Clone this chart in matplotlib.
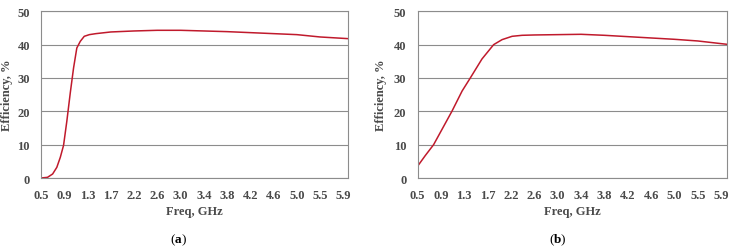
import matplotlib
matplotlib.use("Agg")
import matplotlib.pyplot as plt

# tick labels on the (category style) frequency axis
freq_labels = ["0.5", "0.9", "1.3", "1.7", "2.2", "2.6", "3.0",
               "3.4", "3.8", "4.2", "4.6", "5.0", "5.5", "5.9"]

# panel (a): position on the label axis, efficiency %
pos_a = [0, 0.28, 0.5, 0.68, 0.83, 0.97, 1.11, 1.26, 1.40, 1.54, 1.69, 1.86,
         2.08, 2.36, 3.0, 4.0, 5.0, 6.0, 7.0, 8.0, 9.0, 10.0, 11.0, 12.0, 13.2]
eff_a = [0, 0.2, 1.2, 3.2, 6.2, 9.8, 17.0, 25.6, 33.0, 39.0, 41.0, 42.5,
         43.0, 43.3, 43.8, 44.1, 44.3, 44.3, 44.1, 43.9, 43.6, 43.3, 43.0, 42.3, 41.8]

# panel (b)
pos_b = [0, 0.33, 0.69, 1.05, 1.48, 1.91, 2.26, 2.76, 3.26, 3.62, 4.05, 4.48,
         5.0, 6.0, 7.0, 8.0, 9.0, 10.0, 11.0, 12.0, 13.25]
eff_b = [3.5, 6.7, 10.0, 14.6, 20.1, 26.1, 30.0, 35.7, 40.0, 41.5, 42.5, 42.8,
         42.9, 43.0, 43.1, 42.8, 42.4, 42.0, 41.6, 41.1, 40.1]

plt.rcParams["font.family"] = "Liberation Serif"
plt.rcParams["mathtext.fontset"] = "custom"
plt.rcParams["mathtext.rm"] = "Liberation Serif"
plt.rcParams["mathtext.bf"] = "Liberation Serif:bold"

txt = "#4a4a4a"
grid_c = "#8c8c8c"
line_c = "#c01a2c"

fig = plt.figure(figsize=(7.31, 2.53), dpi=100)

panels = [
    ([41 / 731, 1 - 179 / 253, 307 / 731, 166.7 / 253], pos_a, eff_a, 13.2, 178 / 731, "a", -0.092),
    ([417.5 / 731, 1 - 179 / 253, 309.5 / 731, 166.7 / 253], pos_b, eff_b, 13.25, 558 / 731, "b", -0.099),
]

for rect, xs, ys, xmax, cap_x, letter, ylab_x in panels:
    ax = fig.add_axes(rect)
    ax.plot(xs, ys, color=line_c, lw=1.1)
    ax.set_xlim(0, xmax)
    ax.set_ylim(0, 50)
    ax.set_yticks([0, 10, 20, 30, 40, 50])
    ax.set_xticks(range(len(freq_labels)))
    ax.set_xticklabels(freq_labels)
    ax.yaxis.grid(True, color=grid_c, lw=0.8)
    ax.set_axisbelow(True)
    for s in ax.spines.values():
        s.set_color(grid_c)
        s.set_linewidth(0.8)
    ax.tick_params(axis="both", length=0, labelsize=9, labelcolor=txt)
    ax.tick_params(axis="x", pad=8)
    ax.tick_params(axis="y", pad=8)
    for lab in ax.get_xticklabels() + ax.get_yticklabels():
        lab.set_fontweight("bold")
    ax.set_xlabel("Freq, GHz", fontsize=9, fontweight="bold", color=txt, labelpad=3)
    ax.set_ylabel("Efficiency, %", fontsize=9, fontweight="bold", color=txt)
    ax.yaxis.set_label_coords(ylab_x, 0.5)
    fig.text(cap_x, 1 - 240 / 253, r"($\mathbf{" + letter + "}$)", ha="center", va="center",
             fontsize=9.5, color="black")

fig.savefig("out.png", dpi=100)
